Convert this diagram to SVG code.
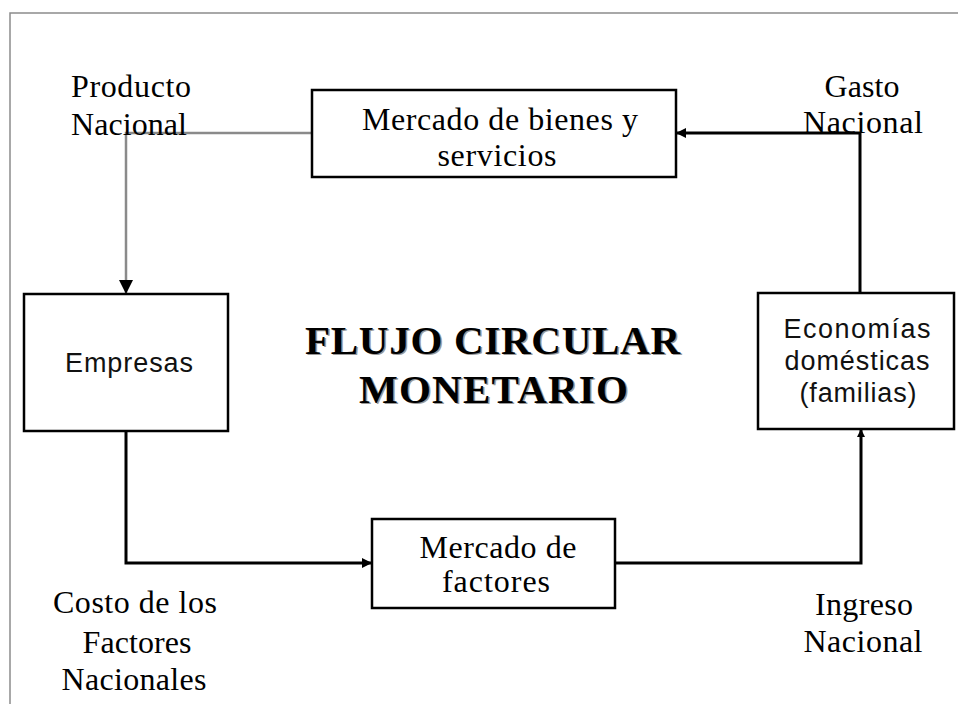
<svg xmlns="http://www.w3.org/2000/svg" width="958" height="704" viewBox="0 0 958 704">
<style>
.box{fill:#fff;stroke:#000;stroke-width:2.5}
.serif{font-family:"Liberation Serif","Times New Roman",serif;font-size:32px;fill:#000}
.sans{font-family:"Liberation Sans",Arial,sans-serif;font-size:27px;fill:#111}
.title{font-family:"Liberation Serif","Times New Roman",serif;font-size:41px;font-weight:bold}
.conn{fill:none;stroke:#000;stroke-width:3}
.connG{fill:none;stroke:#8a8a8a;stroke-width:2.5}
</style>
<defs>
<marker id="ah" markerWidth="10" markerHeight="10" refX="9" refY="5" orient="auto" markerUnits="userSpaceOnUse"><path d="M0,0 L10,5 L0,10 z" fill="#000"/></marker>
<marker id="ahs" markerWidth="8" markerHeight="8" refX="7" refY="4" orient="auto" markerUnits="userSpaceOnUse"><path d="M0,0 L8,4 L0,8 z" fill="#000"/></marker>
<marker id="ahG" markerWidth="14" markerHeight="14" refX="13" refY="7" orient="auto" markerUnits="userSpaceOnUse"><path d="M0,0 L14,7 L0,14 z" fill="#000"/></marker>
</defs>
<rect width="958" height="704" fill="#fff"/>
<path d="M10,704 V13 H958" fill="none" stroke="#8c8c8c" stroke-width="1.5"/>

<g id="connectors">
<path class="connG" d="M312,133 H126 V293" marker-end="url(#ahG)"/>
<path class="conn" d="M126,431 V563 H371" marker-end="url(#ah)"/>
<path class="conn" d="M615,563 H861 V430" marker-end="url(#ahs)"/>
<path class="conn" d="M860,293 V133 H677" marker-end="url(#ah)"/>
</g>

<g id="mercado-bienes">
<rect class="box" x="312" y="90" width="364" height="87" stroke-width="3"/>
<text class="serif" x="500" y="130" text-anchor="middle" textLength="276" lengthAdjust="spacing">Mercado de bienes y</text>
<text class="serif" x="497" y="166" text-anchor="middle" textLength="119" lengthAdjust="spacing">servicios</text>
</g>

<g id="empresas">
<rect class="box" x="24" y="294" width="204" height="137"/>
<text class="sans" x="129" y="372" text-anchor="middle" textLength="128" lengthAdjust="spacing">Empresas</text>
</g>

<g id="economias">
<rect class="box" x="758" y="293" width="196" height="136"/>
<text class="sans" x="857" y="338" text-anchor="middle" textLength="147" lengthAdjust="spacing">Economías</text>
<text class="sans" x="857" y="370" text-anchor="middle" textLength="145" lengthAdjust="spacing">domésticas</text>
<text class="sans" x="858" y="402" text-anchor="middle" textLength="117" lengthAdjust="spacing">(familias)</text>
</g>

<g id="mercado-factores">
<rect class="box" x="372" y="519" width="243" height="89" stroke-width="3"/>
<text class="serif" x="498" y="558" text-anchor="middle" textLength="157" lengthAdjust="spacing">Mercado de</text>
<text class="serif" x="496" y="592" text-anchor="middle" textLength="108" lengthAdjust="spacing">factores</text>
</g>

<g id="title">
<text class="title" x="494" y="355" text-anchor="middle" textLength="375" lengthAdjust="spacing" fill="#999">FLUJO CIRCULAR</text>
<text class="title" x="495" y="404" text-anchor="middle" textLength="269" lengthAdjust="spacing" fill="#999">MONETARIO</text>
<text class="title" x="492.5" y="353.5" text-anchor="middle" textLength="375" lengthAdjust="spacing" fill="#000">FLUJO CIRCULAR</text>
<text class="title" x="493.5" y="402.5" text-anchor="middle" textLength="269" lengthAdjust="spacing" fill="#000">MONETARIO</text>
</g>

<g id="labels">
<text class="serif" x="71" y="97" textLength="120" lengthAdjust="spacing">Producto</text>
<text class="serif" x="71" y="135" textLength="116" lengthAdjust="spacing">Nacional</text>
<text class="serif" x="862" y="97" text-anchor="middle" textLength="75" lengthAdjust="spacing">Gasto</text>
<text class="serif" x="863" y="133" text-anchor="middle" textLength="120" lengthAdjust="spacing">Nacional</text>
<text class="serif" x="135" y="613" text-anchor="middle" textLength="164" lengthAdjust="spacing">Costo de los</text>
<text class="serif" x="137" y="653" text-anchor="middle" textLength="109" lengthAdjust="spacing">Factores</text>
<text class="serif" x="134" y="690" text-anchor="middle" textLength="145" lengthAdjust="spacing">Nacionales</text>
<text class="serif" x="864" y="615" text-anchor="middle" textLength="98" lengthAdjust="spacing">Ingreso</text>
<text class="serif" x="863" y="652" text-anchor="middle" textLength="119" lengthAdjust="spacing">Nacional</text>
</g>
</svg>
